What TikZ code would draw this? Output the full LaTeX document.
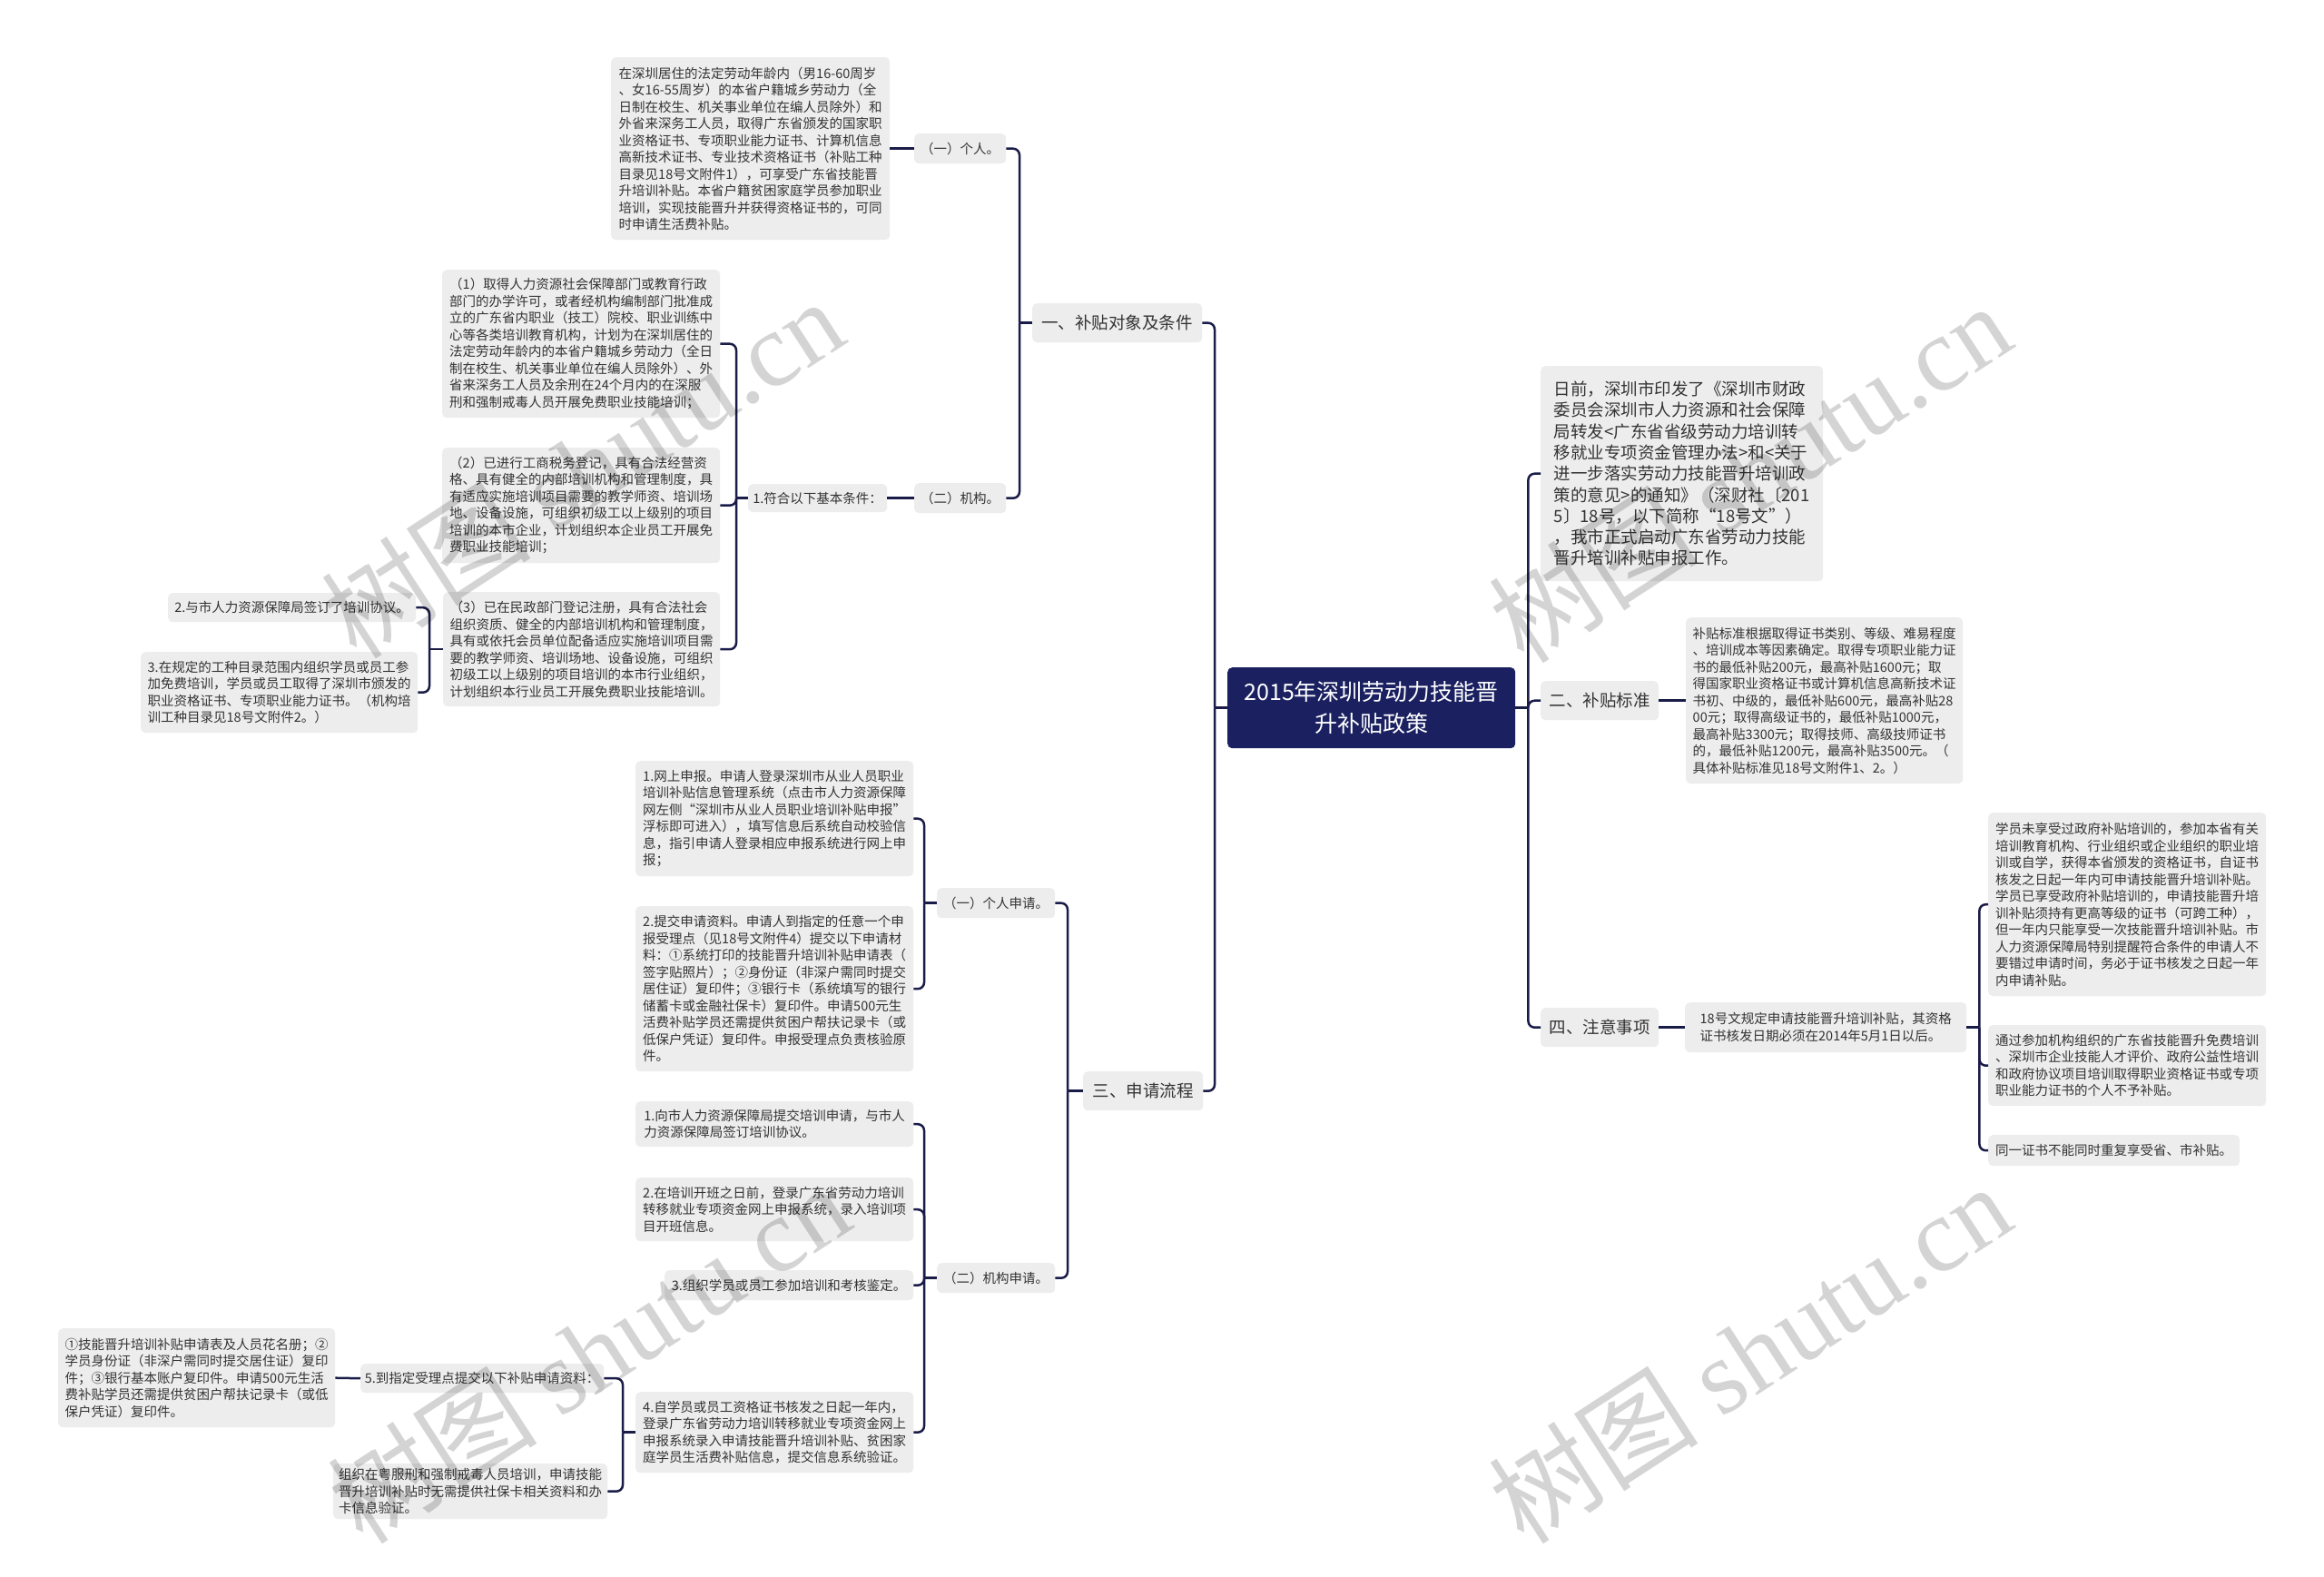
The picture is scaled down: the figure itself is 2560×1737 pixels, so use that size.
\documentclass[tikz,border=0pt]{standalone}
\usepackage{fontspec}
\setmainfont{Noto Sans CJK SC}
\newfontfamily\wmfont{Liberation Serif}
\usetikzlibrary{calc}
\definecolor{boxgray}{HTML}{EDEDED}
\definecolor{txt}{HTML}{333333}
\definecolor{navy}{HTML}{1B2160}
\definecolor{linec}{HTML}{1A1C48}
\tikzset{
  box/.style={anchor=north west, fill=boxgray, rounded corners=5pt, text=txt, align=left, inner sep=0pt, font=\fontsize{14.5}{18.5}\selectfont},
  lab/.style={box, align=center},
  branch/.style={box, align=center, font=\fontsize{18.5}{22}\selectfont},
  intro/.style={box, font=\fontsize{18.5}{23.3}\selectfont},
  root/.style={anchor=north west, fill=navy, rounded corners=5pt, text=white, align=center, inner sep=0pt, font=\fontsize{25}{35}\selectfont},
  conn/.style={draw=linec, line width=2.5pt, rounded corners=7pt},
  wm/.style={rotate=33, text=black, opacity=0.17, font=\fontsize{116}{120}\selectfont},
}
\begin{document}
\begin{tikzpicture}[x=1pt,y=-1pt]
\useasboundingbox[fill=white] (0,0) rectangle (2560,1737);

% root
\node[root, minimum width=317, minimum height=89] (C) at (1352,735) {2015年深圳劳动力技能晋\\升补贴政策};

% branch 1
\node[branch, minimum width=187, minimum height=43] (B1) at (1137,334) {一、补贴对象及条件};
\node[lab, minimum width=101, minimum height=33] (Lind) at (1007,147) {（一）个人。};
\node[lab, minimum width=101, minimum height=33] (Lorg) at (1007,532) {（二）机构。};
\node[box, minimum width=307, minimum height=201] (Aind) at (673,63) {在深圳居住的法定劳动年龄内（男16-60周岁\\、女16-55周岁）的本省户籍城乡劳动力（全\\日制在校生、机关事业单位在编人员除外）和\\外省来深务工人员，取得广东省颁发的国家职\\业资格证书、专项职业能力证书、计算机信息\\高新技术证书、专业技术资格证书（补贴工种\\目录见18号文附件1），可享受广东省技能晋\\升培训补贴。本省户籍贫困家庭学员参加职业\\培训，实现技能晋升并获得资格证书的，可同\\时申请生活费补贴。};
\node[lab, minimum width=153, minimum height=31] (C1) at (824,533) {1.符合以下基本条件：};
\node[box, minimum width=306, minimum height=163] (P1) at (487,297) {（1）取得人力资源社会保障部门或教育行政\\部门的办学许可，或者经机构编制部门批准成\\立的广东省内职业（技工）院校、职业训练中\\心等各类培训教育机构，计划为在深圳居住的\\法定劳动年龄内的本省户籍城乡劳动力（全日\\制在校生、机关事业单位在编人员除外）、外\\省来深务工人员及余刑在24个月内的在深服\\刑和强制戒毒人员开展免费职业技能培训；};
\node[box, minimum width=306, minimum height=127] (P2) at (487,493) {（2）已进行工商税务登记，具有合法经营资\\格、具有健全的内部培训机构和管理制度，具\\有适应实施培训项目需要的教学师资、培训场\\地、设备设施，可组织初级工以上级别的项目\\培训的本市企业，计划组织本企业员工开展免\\费职业技能培训；};
\node[box, minimum width=305, minimum height=126] (P3) at (488,652) {（3）已在民政部门登记注册，具有合法社会\\组织资质、健全的内部培训机构和管理制度，\\具有或依托会员单位配备适应实施培训项目需\\要的教学师资、培训场地、设备设施，可组织\\初级工以上级别的项目培训的本市行业组织，\\计划组织本行业员工开展免费职业技能培训。};
\node[lab, minimum width=273, minimum height=32] (Q2) at (185,653) {2.与市人力资源保障局签订了培训协议。};
\node[box, minimum width=305, minimum height=89] (Q3) at (155,718) {3.在规定的工种目录范围内组织学员或员工参\\加免费培训，学员或员工取得了深圳市颁发的\\职业资格证书、专项职业能力证书。（机构培\\训工种目录见18号文附件2。）};

% right side
\node[intro, minimum width=311, minimum height=237] (Intro) at (1697,403) {日前，深圳市印发了《深圳市财政\\委员会深圳市人力资源和社会保障\\局转发<广东省省级劳动力培训转\\移就业专项资金管理办法>和<关于\\进一步落实劳动力技能晋升培训政\\策的意见>的通知》（深财社〔201\\5〕18号，以下简称“18号文”）\\，我市正式启动广东省劳动力技能\\晋升培训补贴申报工作。};
\node[branch, minimum width=130, minimum height=43] (B2) at (1697,750) {二、补贴标准};
\node[box, minimum width=305, minimum height=183] (Std) at (1857,680) {补贴标准根据取得证书类别、等级、难易程度\\、培训成本等因素确定。取得专项职业能力证\\书的最低补贴200元，最高补贴1600元；取\\得国家职业资格证书或计算机信息高新技术证\\书初、中级的，最低补贴600元，最高补贴28\\00元；取得高级证书的，最低补贴1000元，\\最高补贴3300元；取得技师、高级技师证书\\的，最低补贴1200元，最高补贴3500元。（\\具体补贴标准见18号文附件1、2。）};
\node[branch, minimum width=130, minimum height=43] (B4) at (1697,1110) {四、注意事项};
\node[box, minimum width=310, minimum height=55] (N0) at (1856,1104) {18号文规定申请技能晋升培训补贴，其资格\\证书核发日期必须在2014年5月1日以后。};
\node[box, minimum width=306, minimum height=202] (N1) at (2190,895) {学员未享受过政府补贴培训的，参加本省有关\\培训教育机构、行业组织或企业组织的职业培\\训或自学，获得本省颁发的资格证书，自证书\\核发之日起一年内可申请技能晋升培训补贴。\\学员已享受政府补贴培训的，申请技能晋升培\\训补贴须持有更高等级的证书（可跨工种），\\但一年内只能享受一次技能晋升培训补贴。市\\人力资源保障局特别提醒符合条件的申请人不\\要错过申请时间，务必于证书核发之日起一年\\内申请补贴。};
\node[box, minimum width=306, minimum height=89] (N2) at (2190,1129) {通过参加机构组织的广东省技能晋升免费培训\\、深圳市企业技能人才评价、政府公益性培训\\和政府协议项目培训取得职业资格证书或专项\\职业能力证书的个人不予补贴。};
\node[lab, minimum width=277, minimum height=34] (N3) at (2190,1250) {同一证书不能同时重复享受省、市补贴。};

% branch 3
\node[branch, minimum width=132, minimum height=43] (B3) at (1193,1180) {三、申请流程};
\node[lab, minimum width=130, minimum height=33] (Lpa) at (1032,978) {（一）个人申请。};
\node[lab, minimum width=130, minimum height=33] (Loa) at (1032,1391) {（二）机构申请。};
\node[box, minimum width=306, minimum height=127] (PA1) at (700,838) {1.网上申报。申请人登录深圳市从业人员职业\\培训补贴信息管理系统（点击市人力资源保障\\网左侧“深圳市从业人员职业培训补贴申报”\\浮标即可进入），填写信息后系统自动校验信\\息，指引申请人登录相应申报系统进行网上申\\报；};
\node[box, minimum width=306, minimum height=182] (PA2) at (700,998) {2.提交申请资料。申请人到指定的任意一个申\\报受理点（见18号文附件4）提交以下申请材\\料：①系统打印的技能晋升培训补贴申请表（\\签字贴照片）；②身份证（非深户需同时提交\\居住证）复印件；③银行卡（系统填写的银行\\储蓄卡或金融社保卡）复印件。申请500元生\\活费补贴学员还需提供贫困户帮扶记录卡（或\\低保户凭证）复印件。申报受理点负责核验原\\件。};
\node[box, minimum width=306, minimum height=50] (OA1) at (700,1213) {1.向市人力资源保障局提交培训申请，与市人\\力资源保障局签订培训协议。};
\node[box, minimum width=306, minimum height=70] (OA2) at (700,1297) {2.在培训开班之日前，登录广东省劳动力培训\\转移就业专项资金网上申报系统，录入培训项\\目开班信息。};
\node[lab, minimum width=274, minimum height=33] (OA3) at (732,1399) {3.组织学员或员工参加培训和考核鉴定。};
\node[box, minimum width=306, minimum height=89] (OA4) at (700,1533) {4.自学员或员工资格证书核发之日起一年内，\\登录广东省劳动力培训转移就业专项资金网上\\申报系统录入申请技能晋升培训补贴、贫困家\\庭学员生活费补贴信息，提交信息系统验证。};
\node[lab, minimum width=268, minimum height=32] (S5) at (397,1502) {5.到指定受理点提交以下补贴申请资料：};
\node[box, minimum width=305, minimum height=109] (S5a) at (64,1463) {①技能晋升培训补贴申请表及人员花名册；②\\学员身份证（非深户需同时提交居住证）复印\\件；③银行基本账户复印件。申请500元生活\\费补贴学员还需提供贫困户帮扶记录卡（或低\\保户凭证）复印件。};
\node[box, minimum width=302, minimum height=61] (S6) at (367,1612) {组织在粤服刑和强制戒毒人员培训，申请技能\\晋升培训补贴时无需提供社保卡相关资料和办\\卡信息验证。};

% connectors
\draw[conn] (C.west) -- ++(-14,0) coordinate (jC);
\draw[conn] (jC) |- (B1.east);
\draw[conn] (jC) |- (B3.east);
\draw[conn] (C.east) -- ++(14,0) coordinate (jR);
\draw[conn] (jR) |- (Intro.west);
\draw[conn] (jR) |- (B2.west);
\draw[conn] (jR) |- (B4.west);

\draw[conn] (B1.west) -- ++(-14,0) coordinate (j1);
\draw[conn] (j1) |- (Lind.east);
\draw[conn] (j1) |- (Lorg.east);
\draw[conn] (Lind.west) -- (Aind.east);
\draw[conn] (Lorg.west) -- (C1.east);
\draw[conn] (C1.west) -- ++(-13,0) coordinate (j2);
\draw[conn] (j2) |- (P1.east);
\draw[conn] (j2) |- (P2.east);
\draw[conn] (j2) |- (P3.east);
\draw[conn] (P3.west) -- ++(-15,0) coordinate (j3);
\draw[conn] (j3) |- (Q2.east);
\draw[conn] (j3) |- (Q3.east);

\draw[conn] (B2.east) -- (Std.west);
\draw[conn] (B4.east) -- (N0.west);
\draw[conn] (N0.east) -- ++(14,0) coordinate (j4);
\draw[conn] (j4) |- (N1.west);
\draw[conn] (j4) |- (N2.west);
\draw[conn] (j4) |- (N3.west);

\draw[conn] (B3.west) -- ++(-17,0) coordinate (j5);
\draw[conn] (j5) |- (Lpa.east);
\draw[conn] (j5) |- (Loa.east);
\draw[conn] (Lpa.west) -- ++(-14,0) coordinate (j6);
\draw[conn] (j6) |- (PA1.east);
\draw[conn] (j6) |- (PA2.east);
\draw[conn] (Loa.west) -- ++(-14,0) coordinate (j7);
\draw[conn] (j7) |- (OA1.east);
\draw[conn] (j7) |- (OA2.east);
\draw[conn] (j7) |- (OA3.east);
\draw[conn] (j7) |- (OA4.east);
\draw[conn] (OA4.west) -- ++(-14,0) coordinate (j8);
\draw[conn] (j8) |- (S5.east);
\draw[conn] (j8) |- (S6.east);
\draw[conn] (S5.west) -- (S5a.east);

% watermarks
\node[wm] (wm1) at (641,515) {树图 {\wmfont shutu.cn}};
\node[wm] (wm2) at (1927,520) {树图 {\wmfont shutu.cn}};
\node[wm] (wm3) at (648,1490) {树图 {\wmfont shutu.cn}};
\node[wm] (wm4) at (1927,1490) {树图 {\wmfont shutu.cn}};
\end{tikzpicture}
\end{document}
